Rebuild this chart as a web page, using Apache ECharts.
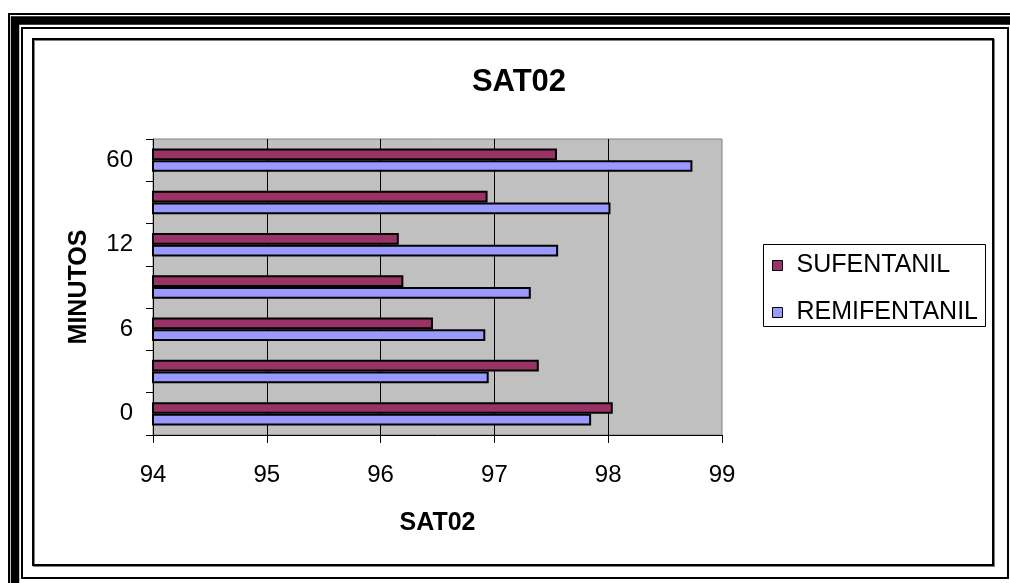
<!DOCTYPE html>
<html>
<head>
<meta charset="utf-8">
<script src="https://cdn.jsdelivr.net/npm/echarts@6/dist/echarts.min.js"></script>
<style>
  html, body { margin: 0; padding: 0; background: #fff; }
  #chart { width: 1010px; height: 583px; }
</style>
</head>
<body>
<div id="chart"></div>
<script>
// Minutes after induction (only every other label is printed on the axis)
const categories = ['0', '3', '6', '9', '12', '30', '60'];
// Oxygen saturation (SAT02) per drug
const sufentanil   = [98.04, 97.39, 96.46, 96.20, 96.16, 96.94, 97.55];
const remifentanil = [97.85, 96.95, 96.92, 97.32, 97.56, 98.02, 98.74];
const seriesNames = ['SUFENTANIL', 'REMIFENTANIL'];
const xTicks = { min: 94, max: 99, step: 1 };

const FONT = '"Liberation Sans", Arial, sans-serif';
const chart = echarts.init(document.getElementById('chart'), null, { renderer: 'canvas' });

// Decorative multi-line frame around the chart
const frame = [
  { type: 'rect', shape: { x: 9, y: 14, width: 1100, height: 700 }, style: { fill: 'none', stroke: '#000', lineWidth: 2 } },
  { type: 'rect', shape: { x: 15, y: 20.5, width: 1100, height: 700 }, style: { fill: 'none', stroke: '#000', lineWidth: 8.5 } },
  { type: 'rect', shape: { x: 22, y: 28, width: 986, height: 550 }, style: { fill: 'none', stroke: '#000', lineWidth: 2 } },
  { type: 'rect', shape: { x: 34, y: 40, width: 960, height: 526 }, style: { fill: 'none', stroke: '#808080', lineWidth: 2 } },
  { type: 'rect', shape: { x: 33, y: 39, width: 960, height: 526 }, style: { fill: 'none', stroke: '#000', lineWidth: 2 } },
  // legend box
  { type: 'rect', shape: { x: 763.5, y: 244.5, width: 222, height: 82 }, style: { fill: '#fff', stroke: '#000', lineWidth: 1 }, z: -1 }
];

chart.setOption({
  animation: false,
  backgroundColor: '#fff',
  textStyle: { fontFamily: FONT },
  title: {
    text: 'SAT02',
    left: 514,
    top: 62,
    textAlign: 'center',
    textStyle: { fontFamily: FONT, fontSize: 31, fontWeight: 'bold', color: '#000' }
  },
  graphic: frame,
  legend: {
    data: seriesNames,
    orient: 'vertical',
    left: 772,
    top: 253,
    padding: 0,
    itemWidth: 10,
    itemHeight: 10,
    itemGap: 22,
    icon: 'rect',
    itemStyle: { borderColor: '#000', borderWidth: 1 },
    textStyle: { fontFamily: FONT, fontSize: 25, lineHeight: 25, color: '#000', padding: [0, 0, 0, 9] }
  },
  grid: {
    left: 153, right: 288, top: 139, bottom: 148,
    show: true,
    backgroundColor: '#C0C0C0',
    borderColor: '#808080',
    borderWidth: 1,
    containLabel: false
  },
  xAxis: {
    type: 'value',
    min: xTicks.min,
    max: xTicks.max,
    interval: xTicks.step,
    name: 'SAT02',
    nameLocation: 'middle',
    nameGap: 76,
    nameTextStyle: { fontFamily: FONT, fontSize: 25, fontWeight: 'bold', color: '#000' },
    axisLine: { show: true, lineStyle: { color: '#000', width: 1 } },
    axisTick: { show: true, inside: false, length: 8, lineStyle: { color: '#000' } },
    axisLabel: { margin: 28, fontFamily: FONT, fontSize: 24, color: '#000' },
    splitLine: { show: true, showMinLine: false, showMaxLine: false, lineStyle: { color: '#000', width: 1 } }
  },
  yAxis: {
    type: 'category',
    data: categories,
    name: 'MINUTOS',
    nameLocation: 'middle',
    nameGap: 61,
    nameRotate: 90,
    nameTextStyle: { fontFamily: FONT, fontSize: 25, fontWeight: 'bold', color: '#000' },
    axisLine: { show: true, lineStyle: { color: '#000', width: 1 } },
    axisTick: { show: true, inside: false, length: 7, interval: 0, lineStyle: { color: '#000' } },
    axisLabel: { interval: 1, margin: 20, fontFamily: FONT, fontSize: 24, color: '#000' },
    splitLine: { show: false }
  },
  series: [
    {
      name: seriesNames[0],
      type: 'bar',
      data: sufentanil,
      barWidth: 11.7,
      barGap: '0%',
      clip: true,
      itemStyle: { color: '#993366', borderColor: '#000', borderWidth: 2 }
    },
    {
      name: seriesNames[1],
      type: 'bar',
      data: remifentanil,
      barWidth: 11.7,
      barGap: '0%',
      clip: true,
      itemStyle: { color: '#9999FF', borderColor: '#000', borderWidth: 2 }
    }
  ]
});
</script>
</body>
</html>
